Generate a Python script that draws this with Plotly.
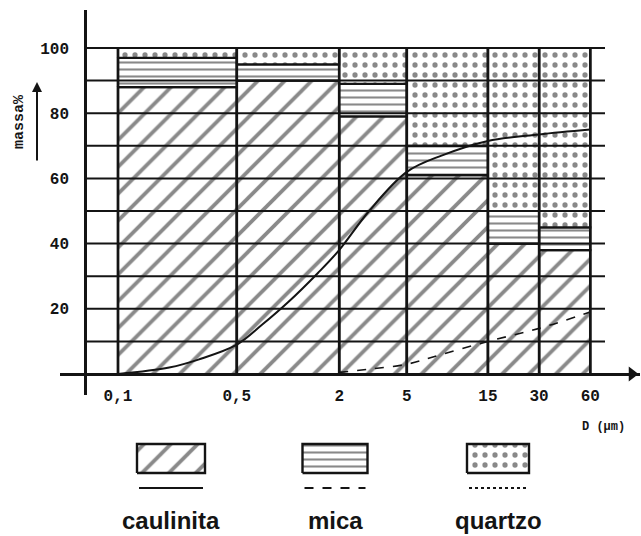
import numpy as np
import plotly.graph_objects as go

# ---------------- data ----------------
bin_edges = [0.1, 0.5, 2, 5, 15, 30, 60]          # D (µm) class limits
kaolinite = [88, 90, 79, 61, 40, 38]               # massa % per class
mica = [9, 5, 10, 9, 10, 7]
quartz = [3, 5, 11, 30, 50, 55]

curve_d = [0.1, 0.2, 0.3, 0.5, 0.7, 1.0, 1.5, 2, 3, 5, 8, 15, 30, 60]
curve_v = [0, 2, 4.5, 9, 15, 22, 31, 38, 50, 62, 67, 71.5, 73.5, 75]

mica_curve_d = [2, 3, 5, 8, 15, 30, 60]
mica_curve_v = [0.5, 1.5, 3, 6, 10, 14, 19]

x_tickvals = [0.1, 0.5, 2, 5, 15, 30, 60]
x_ticktext = ["0,1", "0,5", "2", "5", "15", "30", "60"]
y_tickvals = [20, 40, 60, 80, 100]
y_ticktext = ["20", "40", "60", "80", "100"]
grid_levels = [10, 20, 30, 40, 50, 60, 70, 80, 90, 100]

legend_names = ["caulinita", "mica", "quartzo"]

# ---------------- layout constants ----------------
W, H = 641, 536
PX_DEC = 170.0
X_LEFT, X_RIGHT = 60, 640
X01 = 118
xmin = -1 - (X01 - X_LEFT) / PX_DEC
xmax = -1 + (X_RIGHT - X01) / PX_DEC
Y_TOP, Y_BOT, Y0 = 10, 395, 374
PX_UNIT = 3.26
ymax = (Y0 - Y_TOP) / PX_UNIT
ymin = -(Y_BOT - Y0) / PX_UNIT
AXIS_X_PX = 85
axis_d = 10 ** (-1 - (X01 - AXIS_X_PX) / PX_DEC)
grid_end_d = 10 ** (-1 + (605 - X01) / PX_DEC)
arrow_d = 10 ** (-1 + (632 - X01) / PX_DEC)

INK = "#141414"
pat_k = dict(shape="/", size=19, solidity=0.2, fgcolor=INK, bgcolor="white")
pat_m = dict(shape="-", size=7, solidity=0.3, fgcolor=INK, bgcolor="white")
pat_q = dict(shape=".", size=10, solidity=0.22, fgcolor=INK, bgcolor="white")


def rects(lo, hi):
    xs, ys = [], []
    for i in range(len(lo)):
        a, b = bin_edges[i], bin_edges[i + 1]
        xs += [a, b, b, a, a, None]
        ys += [lo[i], lo[i], hi[i], hi[i], lo[i], None]
    return xs, ys


k_lo = [0] * len(kaolinite)
k_hi = list(kaolinite)
m_lo = k_hi
m_hi = [k + m for k, m in zip(kaolinite, mica)]
q_lo = m_hi
q_hi = [a + q for a, q in zip(m_hi, quartz)]

fig = go.Figure()
for (lo, hi), pat, name in zip([(k_lo, k_hi), (m_lo, m_hi), (q_lo, q_hi)],
                               [pat_k, pat_m, pat_q], legend_names):
    xs, ys = rects(lo, hi)
    fig.add_trace(go.Scatter(x=xs, y=ys, mode="lines", fill="toself",
                             fillpattern=pat, fillcolor="white",
                             line=dict(color=INK, width=2.2),
                             name=name, showlegend=False, hoverinfo="skip"))

# horizontal grid lines
gx, gy = [], []
for g in grid_levels:
    gx += [axis_d, grid_end_d, None]
    gy += [g, g, None]
fig.add_trace(go.Scatter(x=gx, y=gy, mode="lines",
                         line=dict(color=INK, width=2), showlegend=False,
                         hoverinfo="skip"))

# vertical class limits
vx, vy = [], []
for e in bin_edges:
    vx += [e, e, None]
    vy += [0, 100, None]
fig.add_trace(go.Scatter(x=vx, y=vy, mode="lines",
                         line=dict(color=INK, width=2.6), showlegend=False,
                         hoverinfo="skip"))

# distribution curves
fig.add_trace(go.Scatter(x=curve_d, y=curve_v, mode="lines",
                         line=dict(color=INK, width=2, shape="spline"),
                         showlegend=False, hoverinfo="skip"))
fig.add_trace(go.Scatter(x=mica_curve_d, y=mica_curve_v, mode="lines",
                         line=dict(color=INK, width=1.6, shape="spline",
                                   dash="dash"),
                         showlegend=False, hoverinfo="skip"))

# x-axis arrow head
fig.add_trace(go.Scatter(x=[arrow_d], y=[0], mode="markers",
                         marker=dict(symbol="triangle-right", size=13, color=INK),
                         cliponaxis=False, showlegend=False, hoverinfo="skip"))

# ---------------- legend (custom, below chart) ----------------
leg_cx = [171, 335, 498]
leg_w = [68, 65, 62]
box_top, box_bot = 444, 473
line_y = 488
label_y = 520
line_dash = ["solid", "dash", "dot"]
for cx, w, pat, dash, name in zip(leg_cx, leg_w, [pat_k, pat_m, pat_q],
                                  line_dash, legend_names):
    x0, x1 = cx - w / 2, cx + w / 2
    fig.add_trace(go.Scatter(x=[x0, x1, x1, x0, x0],
                             y=[box_bot, box_bot, box_top, box_top, box_bot],
                             xaxis="x2", yaxis="y2", mode="lines", fill="toself",
                             fillpattern=pat, fillcolor="white",
                             line=dict(color=INK, width=2.4),
                             showlegend=False, hoverinfo="skip"))
    fig.add_trace(go.Scatter(x=[x0 + 2, x1 - 2], y=[line_y, line_y],
                             xaxis="x2", yaxis="y2", mode="lines",
                             line=dict(color=INK, width=2.2, dash=dash),
                             showlegend=False, hoverinfo="skip"))
    fig.add_annotation(x=cx, y=label_y, xref="x2", yref="y2", text=name,
                       showarrow=False,
                       font=dict(family="Liberation Sans", size=24,
                                 color=INK, weight="bold"))

mono = dict(family="Liberation Mono", size=16, color=INK, weight="bold")

fig.update_layout(
    width=W, height=H,
    margin=dict(l=0, r=0, t=0, b=0),
    paper_bgcolor="white", plot_bgcolor="white",
    xaxis=dict(type="log", range=[xmin, xmax],
               domain=[X_LEFT / W, X_RIGHT / W],
               anchor="free", position=1 - Y0 / H,
               tickvals=x_tickvals, ticktext=x_ticktext, tickfont=mono,
               showgrid=False, zeroline=False, showline=True,
               linecolor=INK, linewidth=2.6, ticks="", ticklabelstandoff=6),
    yaxis=dict(range=[ymin, ymax],
               domain=[1 - Y_BOT / H, 1 - Y_TOP / H],
               anchor="free", position=AXIS_X_PX / W,
               tickvals=y_tickvals, ticktext=y_ticktext, tickfont=mono,
               showgrid=False, zeroline=False, showline=True,
               linecolor=INK, linewidth=2.6, ticks="", ticklabelstandoff=12),
    xaxis2=dict(domain=[0, 1], range=[0, W], visible=False, anchor="y2"),
    yaxis2=dict(domain=[0, (H - 400) / H], range=[H, 400], visible=False,
                anchor="x2"),
)

fig.add_annotation(x=603 / W, y=1 - 427 / H, xref="paper", yref="paper",
                   xanchor="center", yanchor="middle",
                   text="D (µm)", showarrow=False,
                   font=dict(family="Liberation Mono", size=12, color=INK,
                             weight="bold"))
fig.add_annotation(x=19 / W, y=1 - 122 / H, xref="paper", yref="paper",
                   xanchor="center", yanchor="middle",
                   text="massa%", textangle=-90, showarrow=False,
                   font=dict(family="Liberation Mono", size=15, color=INK,
                             weight="bold"))
fig.add_annotation(x=37 / W, y=1 - 82 / H, xref="paper", yref="paper",
                   text="", showarrow=True, ax=0, ay=80, arrowhead=2,
                   arrowsize=1, arrowwidth=2, arrowcolor=INK)

fig.write_html("out.html")
